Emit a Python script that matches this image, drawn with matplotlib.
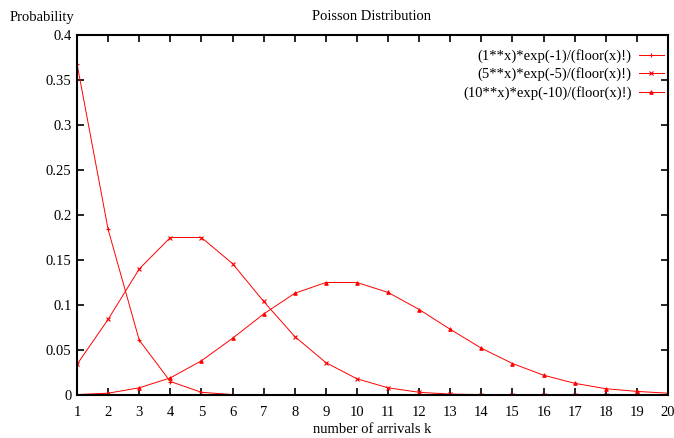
import numpy as np
import matplotlib.pyplot as plt

# number of arrivals k
k = list(range(1, 21))

# probabilities
lam1 = [0.368, 0.184, 0.061, 0.015, 0.003, 0.0005, 0.0001, 0.0, 0.0, 0.0,
        0.0, 0.0, 0.0, 0.0, 0.0, 0.0, 0.0, 0.0, 0.0, 0.0]
lam5 = [0.034, 0.084, 0.140, 0.175, 0.175, 0.146, 0.104, 0.065, 0.036, 0.018,
        0.008, 0.003, 0.001, 0.0005, 0.0002, 0.0, 0.0, 0.0, 0.0, 0.0]
lam10 = [0.0005, 0.002, 0.008, 0.019, 0.038, 0.063, 0.090, 0.113, 0.125, 0.125,
         0.114, 0.095, 0.073, 0.052, 0.035, 0.022, 0.013, 0.007, 0.004, 0.002]

labels = ['(1**x)*exp(-1)/(floor(x)!)',
          '(5**x)*exp(-5)/(floor(x)!)',
          '(10**x)*exp(-10)/(floor(x)!)']
markers = ['+', 'x', '^']

y_ticks = [0, 0.05, 0.1, 0.15, 0.2, 0.25, 0.3, 0.35, 0.4]
y_tick_labels = ['0', '0.05', '0.1', '0.15', '0.2', '0.25', '0.3', '0.35', '0.4']

plt.rcParams['font.family'] = ['Liberation Serif', 'DejaVu Serif']
plt.rcParams['font.size'] = 10.5

fig = plt.figure(figsize=(6.74, 4.38), dpi=100)
ax = fig.add_axes([77 / 674, 1 - 395 / 438, (668 - 77) / 674, (395 - 35) / 438])

for series, lab, m in zip([lam1, lam5, lam10], labels, markers):
    ax.plot(k, series, color='red', linewidth=0.7, marker=m,
            markersize=2.5, markeredgewidth=0.8, label=lab)

ax.set_xlim(1, 20)
ax.set_ylim(0, 0.4)
ax.set_xticks(k)
ax.set_yticks(y_ticks)
ax.set_yticklabels(y_tick_labels)
ax.tick_params(direction='in', length=5, width=1.2, top=True, right=True)
ax.tick_params(axis='y', pad=4)
ax.tick_params(axis='x', pad=8)
for sp in ax.spines.values():
    sp.set_linewidth(1.5)

ax.set_xlabel('number of arrivals k', labelpad=3)
fig.text(42 / 674, 1 - 17 / 438, 'Probability', ha='center', va='center')
fig.text(372 / 674, 1 - 17 / 438, 'Poisson Distribution', ha='center', va='center')

ax.legend(loc='upper right', bbox_to_anchor=(1.010, 0.989), frameon=False,
          markerfirst=False, handlelength=1.7, handletextpad=0.5,
          borderaxespad=0.3, labelspacing=0.3)

fig.savefig('out.png', dpi=100)
